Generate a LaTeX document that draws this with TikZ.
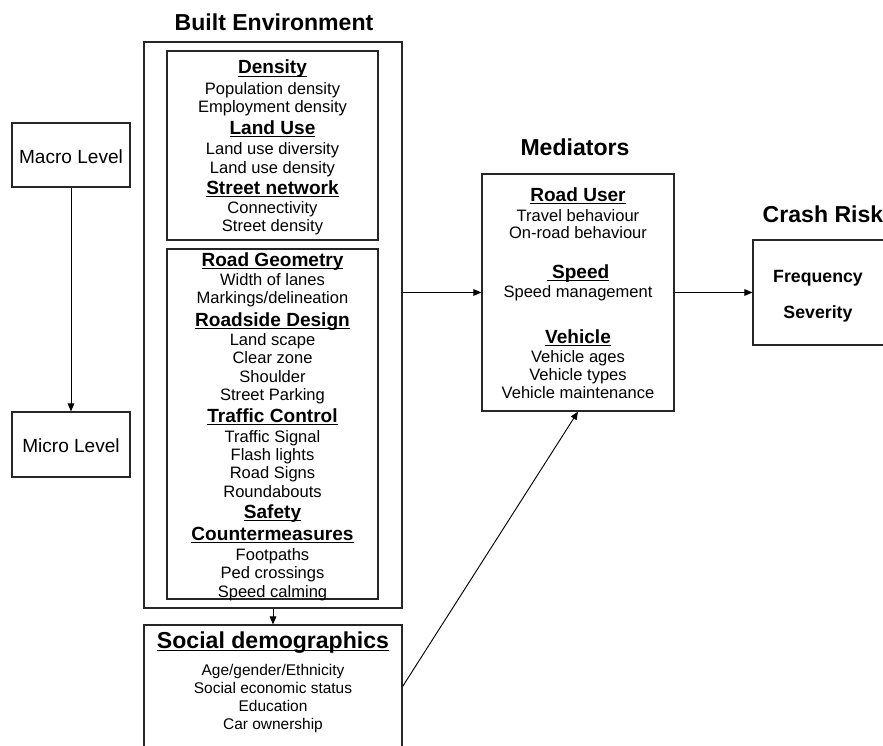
\documentclass[tikz,border=0pt]{standalone}
\usepackage{fontspec}
\setmainfont{Liberation Sans}
\usetikzlibrary{arrows.meta}
\usetikzlibrary{fit}

% underlined heading text (line at a fixed depth, as in a word processor)
\newcommand\hdul[1]{\setbox0\hbox{#1}\rlap{\rule[-2.4pt]{\wd0}{1.1pt}}\box0}
\newcommand\hdtxt[1]{{\fontsize{14.3}{17}\selectfont\bfseries\hdul{#1}}}

\tikzset{
  box/.style={draw=black!85, line width=0.9pt, inner sep=0pt},
  bigtitle/.style={anchor=base, inner sep=0pt, font=\fontsize{17.3}{20}\selectfont\bfseries},
  itm/.style={anchor=base, inner sep=0pt, font=\fontsize{12.4}{15}\selectfont},
  sditm/.style={anchor=base, inner sep=0pt, font=\fontsize{11.6}{14}\selectfont},
  lvl/.style={anchor=base, inner sep=0pt, font=\fontsize{14.3}{17}\selectfont},
  risk/.style={anchor=base, inner sep=0pt, font=\fontsize{13.3}{16}\selectfont\bfseries},
  link/.style={-{Triangle[length=6pt,width=5pt]}, line width=0.7pt}
}

\begin{document}
\begin{tikzpicture}[x=0.75pt, y=-0.75pt]
  \useasboundingbox (0,0) rectangle (883,746);

  % Level boxes
  \node[box, fit={(12,123) (130,187)}] (macro) {};
  \node[box, fit={(12,412) (130,477)}] (micro) {};
  \node[lvl] (macrotxt) at (71,163) {Macro Level};
  \node[lvl] (microtxt) at (71,452) {Micro Level};

  % Built environment
  \node[bigtitle] (betitle) at (274,31) {Built Environment};
  \node[box, fit={(144,42) (402,608)}] (be) {};
  \node[box, fit={(167,51) (378,240)}] (area) {};
  \node[box, fit={(167,249) (378,599)}] (road) {};

  \foreach \y/\t [count=\i] in {74/\hdtxt{Density}, 94/Population density,
      112/Employment density, 134/\hdtxt{Land Use}, 154/Land use diversity,
      173/Land use density, 194/\hdtxt{Street network}, 213/Connectivity,
      231/Street density}
    \node[itm] (area\i) at (272.5,\y) {\t};

  \foreach \y/\t [count=\i] in {266/\hdtxt{Road Geometry}, 285/Width of lanes,
      303/{Markings/delineation}, 326/\hdtxt{Roadside Design}, 345/Land scape,
      363/Clear zone, 382/Shoulder, 400/Street Parking,
      422/\hdtxt{Traffic Control}, 442/Traffic Signal, 460/Flash lights,
      478/Road Signs, 497/Roundabouts, 518/\hdtxt{Safety},
      540/\hdtxt{Countermeasures}, 560/Footpaths, 578/Ped crossings,
      597/Speed calming}
    \node[itm] (road\i) at (272.5,\y) {\t};

  % Social demographics
  \node[box, fit={(144,625) (402,748)}] (sd) {};
  \node[bigtitle] (sdtitle) at (273,648) {\hdul{Social demographics}};
  \foreach \y/\t [count=\i] in {675/{Age/gender/Ethnicity},
      693/Social economic status, 711/Education, 729/Car ownership}
    \node[sditm] (sd\i) at (273,\y) {\t};

  % Mediators
  \node[bigtitle] (medtitle) at (575,155) {Mediators};
  \node[box, fit={(482,174) (674,411)}] (med) {};
  \foreach \y/\t [count=\i] in {201/\hdtxt{Road User}, 221/Travel behaviour,
      238/On-road behaviour, 278/\hdtxt{~Speed}, 297/Speed management,
      343/\hdtxt{Vehicle}, 362/Vehicle ages, 380/Vehicle types,
      398/Vehicle maintenance}
    \node[itm] (med\i) at (578,\y) {\t};

  % Crash risk
  \node[bigtitle] (crashtitle) at (823,222) {Crash Risk};
  \node[box, fit={(753,240) (890,345)}] (crash) {};
  \node[risk] (freq) at (818,282) {Frequency};
  \node[risk] (sev) at (818,318) {Severity};

  % Connectors
  \draw[link] (macro) -- (micro);
  \draw[link] (be) -- (sd);
  \draw[link] (be.east |- med.west) -- (med.west);
  \draw[link] (med) -- (crash);
  \draw[link] (sd.east) -- (med.south);
\end{tikzpicture}
\end{document}
